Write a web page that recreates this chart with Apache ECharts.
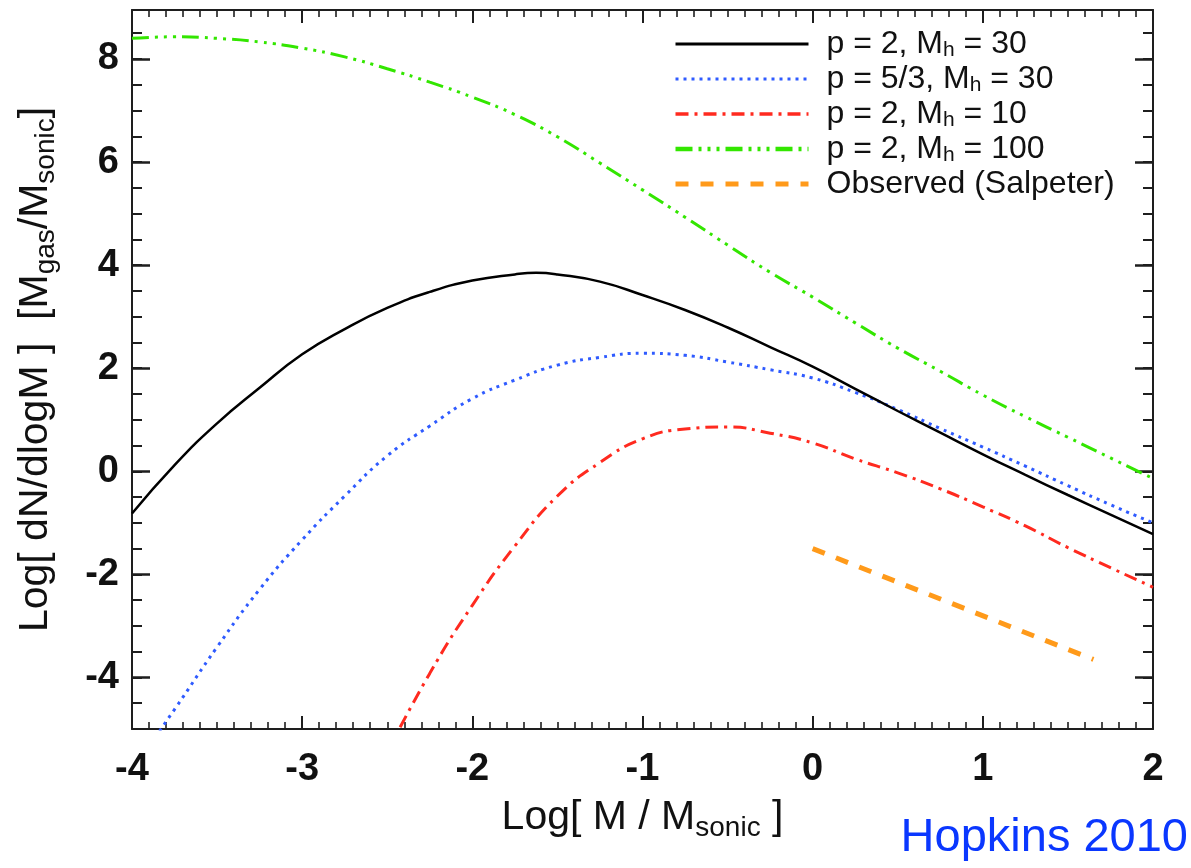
<!DOCTYPE html>
<html>
<head>
<meta charset="utf-8">
<title>Mass function</title>
<script src="https://cdn.jsdelivr.net/npm/echarts@6/dist/echarts.min.js"></script>
<style>
  html, body { margin: 0; padding: 0; background: #ffffff; }
  #chart { width: 1191px; height: 868px; }
</style>
</head>
<body>
<div id="chart"></div>
<script>
// log(M / M_sonic) sample grid shared by most model curves
const logMass = [-4, -3.75, -3.5, -3.25, -3, -2.75, -2.5, -2.25, -2, -1.75, -1.5, -1.25,
                 -1, -0.75, -0.5, -0.25, 0, 0.25, 0.5, 0.75, 1, 1.25, 1.5, 1.75, 2];
// the p = 2, M_h = 30 curve carries one extra sample at its peak
const logMassP2Mh30 = [-4, -3.75, -3.5, -3.25, -3, -2.75, -2.5, -2.25, -2, -1.75, -1.625, -1.5, -1.25,
                       -1, -0.75, -0.5, -0.25, 0, 0.25, 0.5, 0.75, 1, 1.25, 1.5, 1.75, 2];

// log dN/dlogM for each model
const p2Mh30 = [-0.82, 0.12, 0.93, 1.62, 2.27, 2.76, 3.17, 3.48, 3.70, 3.82, 3.85, 3.82, 3.68,
                3.42, 3.13, 2.79, 2.41, 2.03, 1.60, 1.17, 0.75, 0.33, -0.07, -0.46, -0.84, -1.22];
const p53Mh30 = [-5.8, -4.62, -3.41, -2.29, -1.33, -0.48, 0.30, 0.88, 1.41, 1.77, 2.06, 2.21,
                 2.29, 2.25, 2.12, 1.97, 1.81, 1.53, 1.20, 0.83, 0.47, 0.10, -0.28, -0.65, -1.00];
const p2Mh10 = [null, null, null, null, null, null, -5.45, -3.92, -2.60, -1.45, -0.48, 0.17,
                0.63, 0.82, 0.86, 0.74, 0.55, 0.24, -0.03, -0.34, -0.69, -1.06, -1.48, -1.87, -2.25];
const p2Mh100 = [8.40, 8.43, 8.40, 8.33, 8.21, 8.04, 7.81, 7.55, 7.26, 6.92, 6.49, 5.98,
                 5.46, 4.93, 4.39, 3.86, 3.38, 2.88, 2.39, 1.94, 1.48, 1.06, 0.66, 0.26, -0.14];

// Salpeter slope segment
const salpeterMass = [0, 1.65];
const salpeterValue = [-1.5, -3.65];

const seriesNames = ['p = 2, M_h = 30', 'p = 5/3, M_h = 30', 'p = 2, M_h = 10',
                     'p = 2, M_h = 100', 'Observed (Salpeter)'];

const xTickValues = [-4, -3, -2, -1, 0, 1, 2];
const yTickValues = [-4, -2, 0, 2, 4, 6, 8];

const FONT = "'Liberation Sans', Arial, Helvetica, sans-serif";
const AXIS_COLOR = '#1e1e1e';

function pairs(xs, ys) {
  return xs.map((x, i) => [x, ys[i]]);
}

const frameLine = { show: true, onZero: false, lineStyle: { color: AXIS_COLOR, width: 2 } };

function xAxisDef(pos, labels) {
  return {
    type: 'value', position: pos, min: -4, max: 2, interval: 1,
    axisLine: frameLine,
    axisTick: { show: true, inside: true, length: 13, lineStyle: { color: AXIS_COLOR, width: 2 } },
    minorTick: { show: true, splitNumber: 10, length: 7, lineStyle: { color: AXIS_COLOR, width: 1.6 } },
    splitLine: { show: false }, minorSplitLine: { show: false },
    axisLabel: labels ? {
      show: true, margin: 22, fontSize: 38, fontWeight: 'bold', color: '#111', fontFamily: FONT,
      customValues: xTickValues
    } : { show: false }
  };
}

const yMin = -5, yMax = 8.95;

function yMinorAxis(pos) {
  return {
    type: 'value', position: pos, min: yMin, max: yMax, interval: 0.5,
    axisLine: frameLine,
    axisTick: { show: true, inside: true, length: 10, lineStyle: { color: AXIS_COLOR, width: 2 } },
    axisLabel: { show: false }, splitLine: { show: false }
  };
}

const subTitleStyle = { fontSize: 28, lineHeight: 22, verticalAlign: 'bottom', color: '#111', fontFamily: FONT };

function yMajorAxis(pos, labels) {
  const ax = {
    type: 'value', position: pos, min: yMin, max: yMax,
    axisLine: { show: false, onZero: false },
    axisTick: { show: true, inside: true, length: 18, customValues: yTickValues,
                lineStyle: { color: AXIS_COLOR, width: 2.5 } },
    axisLabel: { show: false }, splitLine: { show: false }
  };
  if (labels) {
    ax.axisLabel = { show: true, customValues: yTickValues, margin: 13, fontSize: 38,
                     fontWeight: 'bold', color: '#111', fontFamily: FONT };
    ax.name = 'Log[ dN/dlogM ]  [M{sub|gas}/M{sub|sonic}]';
    ax.nameLocation = 'middle';
    ax.nameGap = 72;
    ax.nameTextStyle = {
      fontSize: 41, color: '#111', fontFamily: FONT, lineHeight: 48,
      rich: { sub: subTitleStyle }
    };
  }
  return ax;
}

const xBottom = xAxisDef('bottom', true);
xBottom.name = 'Log[ M / M{sub|sonic} ]';
xBottom.nameLocation = 'middle';
xBottom.nameGap = 62;
xBottom.nameTextStyle = {
  fontSize: 41, color: '#111', fontFamily: FONT, lineHeight: 48,
  rich: { sub: subTitleStyle }
};

const styles = [
  { color: '#000000', width: 2.5, type: 'solid', legendWidth: 3 },
  { color: '#2f5bff', width: 3, type: [3, 5], legendWidth: 3 },
  { color: '#ff2a1f', width: 3, type: [13, 6, 3, 6], legendWidth: 3.5 },
  { color: '#33e600', width: 3, type: [17, 6, 3, 6, 3, 6, 3, 6], legendWidth: 4.5 },
  { color: '#ff9a1a', width: 5, type: [13, 12], legendWidth: 5 }
];

const curveData = [
  pairs(logMassP2Mh30, p2Mh30),
  pairs(logMass, p53Mh30),
  pairs(logMass, p2Mh10),
  pairs(logMass, p2Mh100),
  pairs(salpeterMass, salpeterValue)
];

const series = curveData.map((data, i) => ({
  name: seriesNames[i],
  type: 'line',
  data: data,
  xAxisIndex: 0,
  yAxisIndex: 0,
  symbol: 'none',
  showSymbol: false,
  smooth: i < 4 ? 0.5 : false,
  connectNulls: false,
  clip: true,
  z: 5 - i,
  lineStyle: { color: styles[i].color, width: styles[i].width, type: styles[i].type },
  itemStyle: { color: styles[i].color },
  emphasis: { disabled: true },
  silent: true
}));

const chart = echarts.init(document.getElementById('chart'), null, { renderer: 'canvas' });

chart.setOption({
  animation: false,
  backgroundColor: '#ffffff',
  grid: { left: 132, right: 38, top: 10, bottom: 139, containLabel: false },
  xAxis: [xBottom, xAxisDef('top', false)],
  yAxis: [yMinorAxis('left'), yMajorAxis('left', true), yMinorAxis('right'), yMajorAxis('right', false)],
  legend: {
    orient: 'vertical',
    left: 673,
    top: 27,
    padding: 0,
    itemWidth: 133,
    itemHeight: 14,
    itemGap: 1,
    selectedMode: false,
    data: seriesNames.map((n, i) => ({
      name: n,
      itemStyle: { opacity: 0, borderWidth: 0 },
      lineStyle: { color: styles[i].color, width: styles[i].legendWidth, type: styles[i].type }
    })),
    formatter: name => '{gap| }' + name.replace(/_(\w+)/, '{sub|$1}'),
    textStyle: {
      fontSize: 32, color: '#111', fontFamily: FONT, lineHeight: 34,
      rich: {
        gap: { width: 13, fontSize: 32, lineHeight: 34 },
        sub: { fontSize: 21, lineHeight: 9, verticalAlign: 'bottom', color: '#111', fontFamily: FONT }
      }
    }
  },
  graphic: [{
    type: 'text',
    right: 3,
    top: 815,
    style: { text: 'Hopkins 2010', fontSize: 47, fontFamily: FONT, fill: '#0a37ff' }
  }],
  series: series
});
</script>
</body>
</html>
